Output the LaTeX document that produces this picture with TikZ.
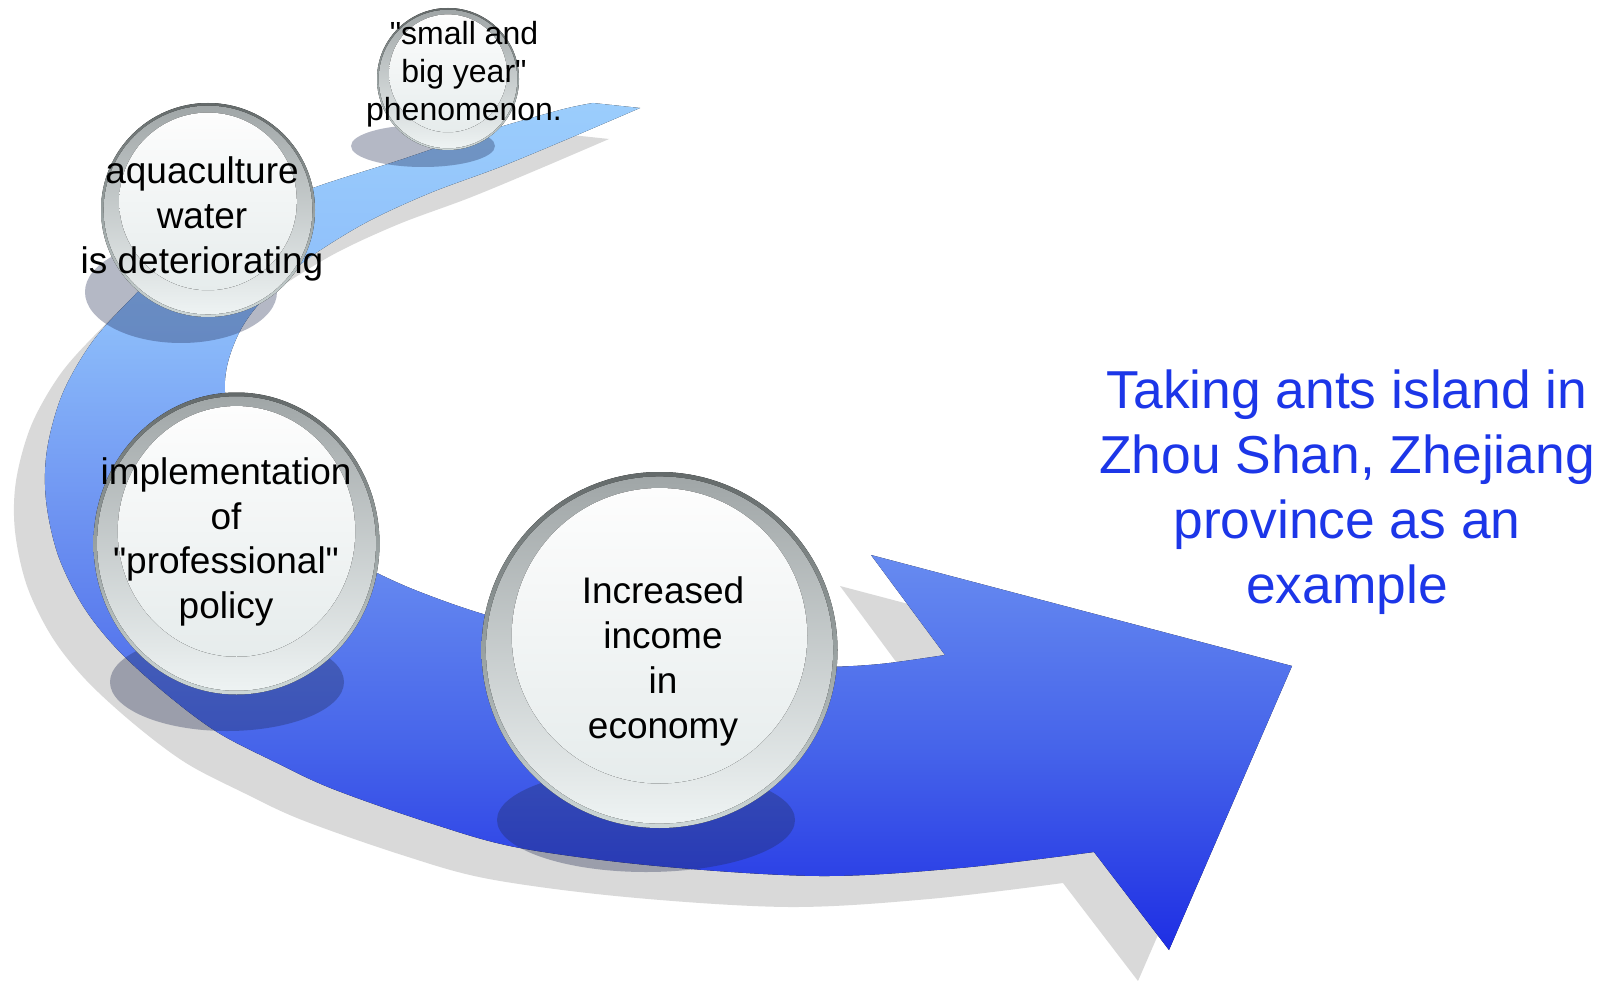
\documentclass[tikz,border=0pt]{standalone}
\usepackage{fontspec}
\setmainfont{Liberation Sans}
\usetikzlibrary{shadings}
\definecolor{bandL}{RGB}{155,205,252}
\definecolor{bandA}{RGB}{140,188,250}
\definecolor{bandB}{RGB}{108,145,241}
\definecolor{bandC}{RGB}{70,100,234}
\definecolor{bandD}{RGB}{30,46,228}
\definecolor{shadowgray}{RGB}{217,217,217}
\definecolor{ballshadow}{RGB}{30,40,80}
\definecolor{rimT}{RGB}{100,106,106}
\definecolor{rimB}{RGB}{205,215,215}
\definecolor{bezT}{RGB}{160,166,167}
\definecolor{bezM}{RGB}{198,205,206}
\definecolor{bezB}{RGB}{238,243,243}
\definecolor{inT}{RGB}{253,253,253}
\definecolor{inM}{RGB}{212,219,221}
\definecolor{inB}{RGB}{230,236,236}
\definecolor{titleblue}{RGB}{28,54,232}
\pgfdeclareverticalshading{bandshade}{100bp}{color(0bp)=(bandD); color(25bp)=(bandD); color(37bp)=(bandC); color(50bp)=(bandB); color(62bp)=(bandA); color(75bp)=(bandL); color(100bp)=(bandL)}
\newcommand\bandpath{plot[smooth, tension=0.55] coordinates {(593,103) (560,110) (480,133) (400,160) (313,188) (240,218) (175,258) (125,305) (90,345) (62,395) (47,450) (46,500) (58,555) (83,606) (117,649) (165,693) (217,732) (275,762) (333,789) (433,824) (520,848) (657,866) (820,876) (960,868) (1094,852)}
 -- (1169,950) -- (1292,666) -- (871,555) -- (945,655)
 -- plot[smooth, tension=0.55] coordinates {(945,655) (880,664) (820,667) (740,665) (660,656) (580,640) (483,614) (420,592) (377,573) (330,548) (285,515) (252,475) (233,432) (225,392) (228,362) (240,331) (258,305) (285,278) (313,255) (367,222) (430,193) (500,167) (570,138) (640,108)} -- cycle}
\newcommand\glassball[4]{%
  \fill[top color=rimT, bottom color=rimB] (#1,#2) ellipse [x radius={#3pt}, y radius={#4pt}];
  \fill[top color=bezT, middle color=bezM, bottom color=bezB] (#1,#2) ellipse [x radius={0.975*#3pt}, y radius={0.975*#4pt}];
  \fill[top color=inT, middle color=inM, bottom color=inB] (#1,{#2-0.08*#4}) ellipse [x radius={0.83*#3pt}, y radius={0.83*#4pt}];
}
\newcommand\dq{\XeTeXglyph\XeTeXcharglyph"22\relax}
\tikzset{
  balltxt/.style={font=\fontsize{37}{44.8}\selectfont, align=center, inner sep=0pt, text=black},
  smalltxt/.style={font=\fontsize{32}{37.9}\selectfont, align=center, inner sep=0pt, text=black},
  titletxt/.style={font=\fontsize{53.4}{65}\selectfont, align=center, inner sep=0pt, text=titleblue},
  ballshade/.style={fill=ballshadow, fill opacity=0.33}
}
\begin{document}
\begin{tikzpicture}[x=1pt, y=-1pt]
\useasboundingbox (0,0) rectangle (1608,981);
\fill[white] (0,0) rectangle (1608,981);
% band shadow
\fill[shadowgray, shift={(-31,31)}] \bandpath;
% band
\fill[shading=bandshade] \bandpath;
% ball shadows
\fill[ballshade] (423,146) ellipse [x radius=72pt, y radius=21pt];
\fill[ballshade] (181,292) ellipse [x radius=96pt, y radius=51pt];
\fill[ballshade] (227,682) ellipse [x radius=117pt, y radius=49pt];
\fill[ballshade] (646,820) ellipse [x radius=149pt, y radius=52pt];
% balls
\glassball{448}{79}{71}{71}
\glassball{208}{210}{107}{107}
\glassball{236.5}{543.5}{143}{151}
\glassball{659.5}{650}{178}{178}
% texts
\node[smalltxt] (small) at (464,74) {\dq small and\\big year\dq\\phenomenon.};
\node[balltxt] (aqua) at (202,219) {aquaculture\\water\\is deteriorating};
\node[balltxt] (impl) at (226,542) {implementation\\of\\\dq professional\dq\\policy};
\node[balltxt] (incr) at (663,661.5) {Increased\\income\\in\\economy};
\node[titletxt] (title) at (1347,492) {Taking ants island in\\Zhou Shan, Zhejiang\\province as an\\example};
\end{tikzpicture}
\end{document}
